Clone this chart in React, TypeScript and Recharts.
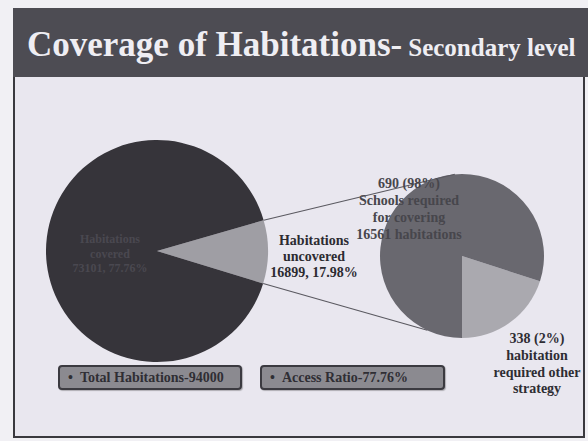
import React from 'react';
import { PieChart, Pie, Cell } from 'recharts';

// main pie: all habitations at secondary level
const mainNames = ['uncovered', 'covered'];
const mainCounts = [16899, 73101];
const mainPercents = ['17.98%', '77.76%'];
const mainShares = [9.2, 90.8]; // slice sizes as drawn in the slide
const mainColors = ['#9f9ea4', '#36343a'];

// second pie: split of the uncovered habitations
const subCounts = [338, 690];
const subPercents = ['2%', '98%'];
const subShares = [20, 80]; // slice sizes as drawn in the slide
const subColors = ['#aaa9af', '#69686f'];
const habitationsCoveredBySchools = 16561;

const totalHabitations = 94000;
const accessRatio = '77.76%';

const FONT = '"Liberation Serif", "Times New Roman", serif';

const MAIN = { cx: 157, cy: 251, r: 111 };
const SUB = { cx: 462, cy: 256, r: 82 };

const RAD = Math.PI / 180;
const polar = (cx: number, cy: number, r: number, angle: number) => ({
  x: cx + r * Math.cos(-angle * RAD),
  y: cy + r * Math.sin(-angle * RAD),
});

const mainData = mainNames.map((name, i) => ({
  name,
  value: mainShares[i],
  count: mainCounts[i],
  pct: mainPercents[i],
}));

const subData = subCounts.map((count, i) => ({
  name: i === 0 ? 'other' : 'schools',
  value: subShares[i],
  count,
  pct: subPercents[i],
}));

const Lines = ({ x, y, lines, step, size, color }: any) => (
  <text
    x={x}
    y={y}
    textAnchor="middle"
    fontFamily={FONT}
    fontWeight="bold"
    fontSize={size}
    fill={color}
  >
    {lines.map((l: string, i: number) => (
      <tspan key={i} x={x} y={y + i * step + size * 0.35}>
        {l}
      </tspan>
    ))}
  </text>
);

const renderMainLabel = (props: any) => {
  const { index, startAngle, endAngle } = props;
  const d = mainData[index];
  if (index === 0) {
    // connector lines from the uncovered wedge to the second pie
    const a = polar(MAIN.cx, MAIN.cy, MAIN.r, endAngle);
    const b = polar(MAIN.cx, MAIN.cy, MAIN.r, startAngle);
    const t = polar(SUB.cx, SUB.cy, SUB.r, 95);
    const u = polar(SUB.cx, SUB.cy, SUB.r, 245);
    return (
      <g>
        <line x1={a.x} y1={a.y} x2={t.x} y2={t.y} stroke="#5a5960" strokeWidth={1.1} />
        <line x1={b.x} y1={b.y} x2={u.x} y2={u.y} stroke="#5a5960" strokeWidth={1.1} />
        <Lines
          x={MAIN.cx + MAIN.r + 46}
          y={MAIN.cy - 11}
          step={16}
          size={14}
          color="#2c2b31"
          lines={['Habitations', d.name, `${d.count}, ${d.pct}`]}
        />
      </g>
    );
  }
  return (
    <Lines
      x={MAIN.cx - 47}
      y={MAIN.cy - 12}
      step={14.5}
      size={12}
      color="#4a4850"
      lines={['Habitations', d.name, `${d.count}, ${d.pct}`]}
    />
  );
};

const renderSubLabel = (props: any) => {
  const { index } = props;
  const d = subData[index];
  if (index === 1) {
    return (
      <Lines
        x={SUB.cx - 53}
        y={SUB.cy - 73}
        step={17}
        size={14}
        color="#47464c"
        lines={[`${d.count} (${d.pct})`, 'Schools required', 'for covering', `${habitationsCoveredBySchools} habitations`]}
      />
    );
  }
  return (
    <Lines
      x={SUB.cx + 75}
      y={SUB.cy + 82}
      step={16.8}
      size={14}
      color="#2e2d33"
      lines={[`${d.count} (${d.pct})`, 'habitation', 'required other', 'strategy']}
    />
  );
};

const boxStyle: React.CSSProperties = {
  position: 'absolute',
  top: 365,
  height: 25,
  boxSizing: 'border-box',
  background: '#8b8a90',
  border: '2px solid #3b3a40',
  borderRadius: 4,
  boxShadow: '1px 1px 1px rgba(0,0,0,0.25)',
  display: 'flex',
  alignItems: 'center',
  paddingLeft: 8,
  fontFamily: FONT,
  fontWeight: 'bold',
  fontSize: 14,
  color: '#2f2e34',
  whiteSpace: 'nowrap',
};

export default function App() {
  return (
    <div
      style={{
        position: 'absolute',
        left: 0,
        top: 0,
        width: 588,
        height: 441,
        overflow: 'hidden',
        background: '#f1f0f4',
      }}
    >
      {/* slide body */}
      <div
        style={{
          position: 'absolute',
          left: 13,
          top: 8,
          width: 572,
          height: 430,
          boxSizing: 'border-box',
          background: '#e9e7ef',
          borderLeft: '2px solid #3a393e',
          borderRight: '2px solid #3a393e',
          borderBottom: '2px solid #3a393e',
        }}
      />
      {/* title bar */}
      <svg style={{ position: 'absolute', left: 0, top: 0 }} width={588} height={80}>
        <rect x={13} y={8} width={575} height={69} fill="#4d4c53" />
        <text x={27} y={56} fontFamily={FONT} fontWeight="bold" fill="#efeef3">
          <tspan fontSize={35}>Coverage of Habitations-</tspan>
          <tspan fontSize={25} dx={6}>Secondary level</tspan>
        </text>
      </svg>

      <div style={{ position: 'absolute', left: 0, top: 0 }}>
        <PieChart width={588} height={441} margin={{ top: 0, right: 0, bottom: 0, left: 0 }}>
          <Pie
            data={mainData}
            dataKey="value"
            cx={MAIN.cx}
            cy={MAIN.cy}
            outerRadius={MAIN.r}
            startAngle={-17}
            endAngle={343}
            stroke="none"
            label={renderMainLabel}
            labelLine={false}
            isAnimationActive={false}
          >
            {mainData.map((_, i) => (
              <Cell key={i} fill={mainColors[i]} />
            ))}
          </Pie>
          <Pie
            data={subData}
            dataKey="value"
            cx={SUB.cx}
            cy={SUB.cy}
            outerRadius={SUB.r}
            startAngle={-90}
            endAngle={270}
            stroke="none"
            label={renderSubLabel}
            labelLine={false}
            isAnimationActive={false}
          >
            {subData.map((_, i) => (
              <Cell key={i} fill={subColors[i]} />
            ))}
          </Pie>
        </PieChart>
      </div>

      <div style={{ ...boxStyle, left: 58, width: 184 }}>
        {'\u2022'}&nbsp;&nbsp;Total Habitations-{totalHabitations}
      </div>
      <div style={{ ...boxStyle, left: 260, width: 185 }}>
        {'\u2022'}&nbsp;&nbsp;Access Ratio-{accessRatio}
      </div>
    </div>
  );
}
